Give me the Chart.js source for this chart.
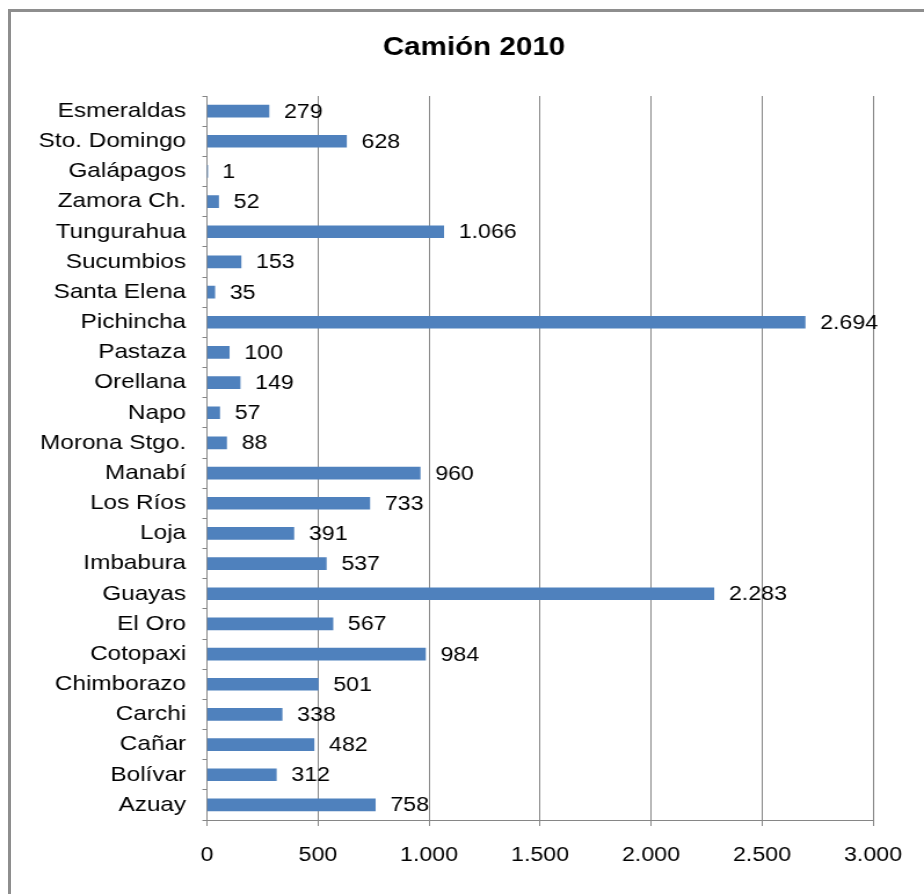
<!DOCTYPE html>
<html>
<head>
<meta charset="utf-8">
<script src="https://cdn.jsdelivr.net/npm/chart.js@4/dist/chart.umd.min.js"></script>
<style>
  html, body { margin: 0; padding: 0; background: #fff; overflow: hidden; }
  #wrap { position: relative; width: 924px; height: 894px; overflow: hidden; }
  #c { position: absolute; left: 0; top: 0; display: block; }
  #frame { position: absolute; left: 8px; top: 9px; width: 1200px; height: 1200px;
           border-left: 3px solid #8e8e8e; border-top: 3px solid #8e8e8e; pointer-events: none; }
</style>
</head>
<body>
<div id="wrap">
  <canvas id="c" width="797" height="894" style="width:924px;height:894px"></canvas>
  <div id="frame"></div>
</div>
<script>
// ---- data ----
const title = "Camión 2010";
const categories = ["Esmeraldas", "Sto. Domingo", "Galápagos", "Zamora Ch.", "Tungurahua",
  "Sucumbios", "Santa Elena", "Pichincha", "Pastaza", "Orellana", "Napo", "Morona Stgo.",
  "Manabí", "Los Ríos", "Loja", "Imbabura", "Guayas", "El Oro", "Cotopaxi", "Chimborazo",
  "Carchi", "Cañar", "Bolívar", "Azuay"];
const values = [279, 628, 1, 52, 1066, 153, 35, 2694, 100, 149, 57, 88,
  960, 733, 391, 537, 2283, 567, 984, 501, 338, 482, 312, 758];
const xTicks = [0, 500, 1000, 1500, 2000, 2500, 3000];

// ---- helpers ----
const fmt = v => String(v).replace(/\B(?=(\d{3})+(?!\d))/g, '.');
const canvas = document.getElementById('c');
const S = 924 / canvas.width;          // horizontal stretch of the source picture
const FONT = '"Liberation Sans", Arial, sans-serif';
const GRID = '#868686';

const titlePlugin = {
  id: 'stretchedTitle',
  afterDraw(chart) {
    const ctx = chart.ctx;
    ctx.save();
    ctx.font = 'bold 25.5px ' + FONT;
    ctx.fillStyle = '#000';
    ctx.textAlign = 'center';
    ctx.textBaseline = 'middle';
    ctx.fillText(title, 474 / S, 48);
    ctx.restore();
  }
};

const labelPlugin = {
  id: 'valueLabels',
  afterDatasetsDraw(chart) {
    const ctx = chart.ctx;
    const meta = chart.getDatasetMeta(0);
    ctx.save();
    ctx.font = '20px ' + FONT;
    ctx.fillStyle = '#000';
    ctx.textAlign = 'left';
    ctx.textBaseline = 'middle';
    meta.data.forEach((bar, i) => {
      ctx.fillText(fmt(values[i]), bar.x + 13, bar.y + 1);
    });
    ctx.restore();
  }
};

new Chart(canvas, {
  type: 'bar',
  data: {
    labels: categories,
    datasets: [{
      data: values,
      backgroundColor: '#4F81BD',
      borderWidth: 0,
      barThickness: 12
    }]
  },
  options: {
    indexAxis: 'y',
    responsive: false,
    devicePixelRatio: 1,
    animation: false,
    layout: { padding: { top: 96, right: 51 / S, bottom: 0, left: 0 } },
    plugins: { legend: { display: false }, tooltip: { enabled: false }, title: { display: false } },
    scales: {
      x: {
        min: 0, max: 3000,
        afterBuildTicks: s => { s.ticks = xTicks.map(v => ({ value: v })); },
        afterFit: s => { s.height = 74; },
        grid: { color: GRID, lineWidth: 1, tickLength: 6, drawTicks: true },
        border: { color: GRID, width: 1 },
        ticks: { color: '#000', font: { family: FONT, size: 20 }, padding: 17,
                 callback: v => fmt(v), maxRotation: 0 }
      },
      y: {
        afterFit: s => { s.width = 207 / S; },
        grid: { drawOnChartArea: false, color: GRID, tickLength: 4, offset: true },
        border: { color: GRID, width: 1 },
        ticks: { color: '#000', font: { family: FONT, size: 21 }, padding: 14, autoSkip: false }
      }
    }
  },
  plugins: [labelPlugin, titlePlugin]
});
canvas.style.width = '924px';
canvas.style.height = '894px';
</script>
</body>
</html>
